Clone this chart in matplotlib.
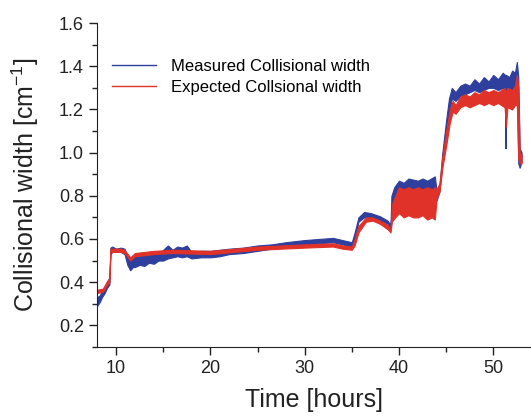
import matplotlib
matplotlib.use("Agg")
import matplotlib.pyplot as plt
from matplotlib.ticker import MultipleLocator

plt.rcParams['font.family'] = ['Liberation Sans', 'DejaVu Sans']
plt.rcParams['mathtext.fontset'] = 'custom'
plt.rcParams['mathtext.rm'] = 'Liberation Sans'

# measured collisional width: time, lower and upper edge of the noisy trace
meas_t = [8.0, 8.3, 8.5, 8.8, 9.0, 9.3, 9.4, 9.6, 10.0, 10.5, 10.9, 11.2, 11.5, 11.8, 12.0,
          12.5, 13.0, 13.5, 14.0, 14.5, 15.0, 15.5, 16.0, 16.5, 17.0, 17.5, 18.0, 19.0,
          20.0, 21.0, 22.0, 23.5, 25.0, 26.5, 28.0, 29.0, 30.0, 31.5, 33.0, 34.0,
          35.0, 35.3, 35.7, 36.3, 37.0, 38.0, 38.8, 39.1, 39.2, 39.5, 40.0, 40.5, 41.0,
          42.0, 42.5, 43.0, 43.8, 44.0, 44.3, 44.6, 45.0, 45.3, 45.6, 46.0, 46.5, 47.0,
          47.5, 48.0, 48.5, 49.0, 49.5, 50.0, 50.5, 51.0, 51.25, 51.3, 51.35, 51.7, 52.0,
          52.3, 52.5, 52.65, 52.8, 53.0]
meas_lo = [0.29, 0.31, 0.33, 0.35, 0.37, 0.39, 0.53, 0.54, 0.545, 0.54, 0.53, 0.48, 0.455, 0.47, 0.47,
           0.48, 0.475, 0.49, 0.485, 0.50, 0.50, 0.51, 0.515, 0.52, 0.515, 0.52, 0.51, 0.515,
           0.515, 0.52, 0.53, 0.535, 0.545, 0.555, 0.565, 0.57, 0.575, 0.58, 0.585, 0.575,
           0.565, 0.60, 0.68, 0.70, 0.70, 0.685, 0.67, 0.645, 0.72, 0.78, 0.80, 0.82, 0.83,
           0.83, 0.83, 0.83, 0.83, 0.78, 0.82, 0.95, 1.08, 1.18, 1.25, 1.24, 1.26, 1.27,
           1.28, 1.29, 1.28, 1.29, 1.30, 1.30, 1.29, 1.30, 1.29, 1.02, 1.29, 1.30, 1.29,
           1.30, 1.30, 0.95, 0.93, 0.96]
meas_hi = [0.33, 0.34, 0.36, 0.38, 0.40, 0.42, 0.56, 0.565, 0.555, 0.56, 0.555, 0.52, 0.50, 0.51, 0.52,
           0.52, 0.525, 0.53, 0.535, 0.53, 0.55, 0.57, 0.55, 0.565, 0.56, 0.57, 0.54, 0.545,
           0.545, 0.55, 0.555, 0.56, 0.57, 0.575, 0.585, 0.59, 0.595, 0.60, 0.605, 0.595,
           0.585, 0.63, 0.70, 0.725, 0.72, 0.705, 0.685, 0.665, 0.80, 0.84, 0.87, 0.86, 0.88,
           0.87, 0.88, 0.87, 0.89, 0.82, 0.85, 1.00, 1.15, 1.25, 1.30, 1.28, 1.31, 1.32,
           1.31, 1.34, 1.32, 1.35, 1.33, 1.36, 1.34, 1.37, 1.36, 1.34, 1.36, 1.35, 1.38,
           1.37, 1.42, 1.35, 1.02, 1.00]

# expected collisional width
exp_t = [8.0, 8.6, 9.0, 9.3, 9.4, 10.5, 10.9, 11.5, 12.0, 14.0, 16.0, 20.0, 25.0,
         30.0, 33.0, 34.0, 35.0, 35.3, 35.7, 36.5, 37.2, 38.0, 38.8, 39.1, 39.25,
         39.6, 40.0, 40.5, 41.0, 41.5, 42.0, 42.5, 43.0, 43.5, 43.8, 44.0, 44.3, 44.6,
         45.0, 45.4, 45.7, 46.0, 46.5, 47.0, 47.5, 48.0, 48.5, 49.0, 49.5, 50.0, 50.5,
         51.2, 51.35, 51.5, 52.0, 52.3, 52.5, 52.65, 52.8, 53.0]
exp_lo = [0.35, 0.355, 0.385, 0.40, 0.54, 0.54, 0.535, 0.50, 0.52, 0.53, 0.535, 0.53, 0.55,
          0.56, 0.565, 0.555, 0.55, 0.57, 0.63, 0.68, 0.685, 0.67, 0.645, 0.63, 0.68,
          0.70, 0.72, 0.70, 0.71, 0.70, 0.70, 0.71, 0.69, 0.70, 0.69, 0.79, 0.82, 0.93,
          1.03, 1.14, 1.19, 1.18, 1.21, 1.22, 1.21, 1.22, 1.23, 1.22, 1.23, 1.22, 1.23,
          1.21, 1.12, 1.21, 1.20, 1.22, 1.22, 0.97, 0.95, 0.95]
exp_hi = [0.365, 0.37, 0.40, 0.42, 0.555, 0.555, 0.55, 0.515, 0.535, 0.545, 0.55, 0.545, 0.565,
          0.575, 0.58, 0.57, 0.565, 0.60, 0.66, 0.70, 0.70, 0.685, 0.665, 0.645, 0.76,
          0.80, 0.84, 0.83, 0.84, 0.83, 0.84, 0.83, 0.84, 0.83, 0.84, 0.83, 0.86, 0.98,
          1.10, 1.20, 1.24, 1.22, 1.26, 1.27, 1.26, 1.28, 1.27, 1.29, 1.28, 1.29, 1.28,
          1.30, 1.28, 1.30, 1.29, 1.31, 1.36, 1.30, 1.00, 0.99]

blue = '#2e3f9e'
red = '#e03228'

fig = plt.figure(figsize=(5.31, 4.2), dpi=100)
ax = fig.add_axes([0.183, 0.174, 0.817, 0.771])

ax.fill_between(meas_t, meas_lo, meas_hi, color=blue, lw=0.8)
ax.fill_between(exp_t, exp_lo, exp_hi, color=red, lw=0.8)
# legend handles
ax.plot([], [], color=blue, lw=1, label='Measured Collisional width')
ax.plot([], [], color=red, lw=1, label='Expected Collsional width')

ax.set_xlim(8, 54)
ax.set_ylim(0.1, 1.6)
ax.xaxis.set_major_locator(MultipleLocator(10))
ax.xaxis.set_minor_locator(MultipleLocator(5))
ax.yaxis.set_minor_locator(MultipleLocator(0.1))
ax.set_yticks([0.2, 0.4, 0.6, 0.8, 1.0, 1.2, 1.4, 1.6])
ax.yaxis.set_major_formatter(plt.FormatStrFormatter('%.1f'))

for s in ['top', 'right']:
    ax.spines[s].set_visible(False)
for s in ['left', 'bottom']:
    ax.spines[s].set_color('#222222')
ax.tick_params(which='major', length=6, width=1, labelsize=13, color='#222222', labelcolor='#222222')
ax.tick_params(which='minor', length=3.5, width=1, color='#222222')

ax.set_xlabel('Time [hours]', fontsize=18, color='#222222', labelpad=8)
ax.set_ylabel('Collisional width [cm$^{\\mathregular{-1}}$]', fontsize=18, color='#222222', labelpad=13)

ax.legend(loc='upper left', bbox_to_anchor=(0.0, 0.935), frameon=False, fontsize=12,
          handlelength=2.6, handletextpad=0.9, labelspacing=0.35)

fig.savefig('out.png', dpi=100)
